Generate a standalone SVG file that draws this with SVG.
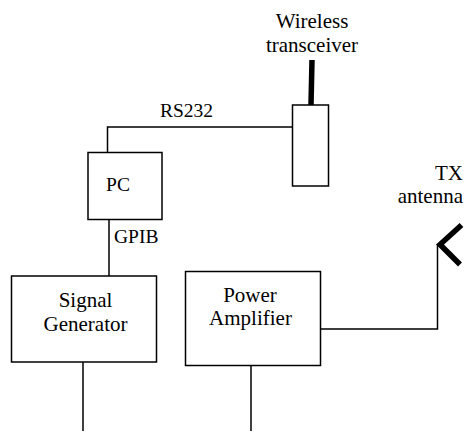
<svg xmlns="http://www.w3.org/2000/svg" width="464" height="432" viewBox="0 0 464 432">
<style>
.box{fill:#fff;stroke:#000;stroke-width:1.5}
.ln{fill:none;stroke:#000;stroke-width:1.5}
.ant{fill:none;stroke:#000;stroke-width:5.5}
text{font-family:"Liberation Serif","Times New Roman",serif;font-size:21px;fill:#000}
.s{font-size:19.5px}
.m{text-anchor:middle}
.e{text-anchor:end}
</style>
<rect width="464" height="432" fill="#fff"/>
<g id="connectors">
<polyline class="ln" points="107.5,152.5 107.5,127 292.5,127"/>
<line class="ln" x1="109" y1="220" x2="109" y2="276"/>
<line class="ln" x1="83" y1="362" x2="83" y2="431"/>
<line class="ln" x1="251" y1="360" x2="251" y2="431"/>
<polyline class="ln" points="318,329 437.5,329 437.5,244"/>
<text x="186.5" y="117" class="m s">RS232</text>
<text x="114" y="243" class="s">GPIB</text>
</g>
<g id="transceiver">
<line class="ant" x1="312" y1="60" x2="311" y2="105"/>
<rect class="box" x="292.5" y="105" width="36" height="81"/>
<text x="312" y="28" class="m">Wireless</text>
<text x="312" y="52" class="m">transceiver</text>
</g>
<g id="pc">
<rect class="box" x="88" y="152.5" width="74" height="67"/>
<text x="118" y="191" class="m s">PC</text>
</g>
<g id="signal-generator">
<rect class="box" x="11.5" y="276" width="145" height="86"/>
<text x="85.5" y="307" class="m">Signal</text>
<text x="85.5" y="331" class="m">Generator</text>
</g>
<g id="power-amplifier">
<rect class="box" x="185.5" y="271.5" width="135" height="94"/>
<text x="250" y="302" class="m">Power</text>
<text x="250.5" y="325" class="m">Amplifier</text>
</g>
<g id="tx-antenna">
<polyline class="ant" points="461.5,225 440,244.5 460,264.5"/>
<text x="463" y="180" class="e">TX</text>
<text x="463" y="203" class="e">antenna</text>
</g>
</svg>
